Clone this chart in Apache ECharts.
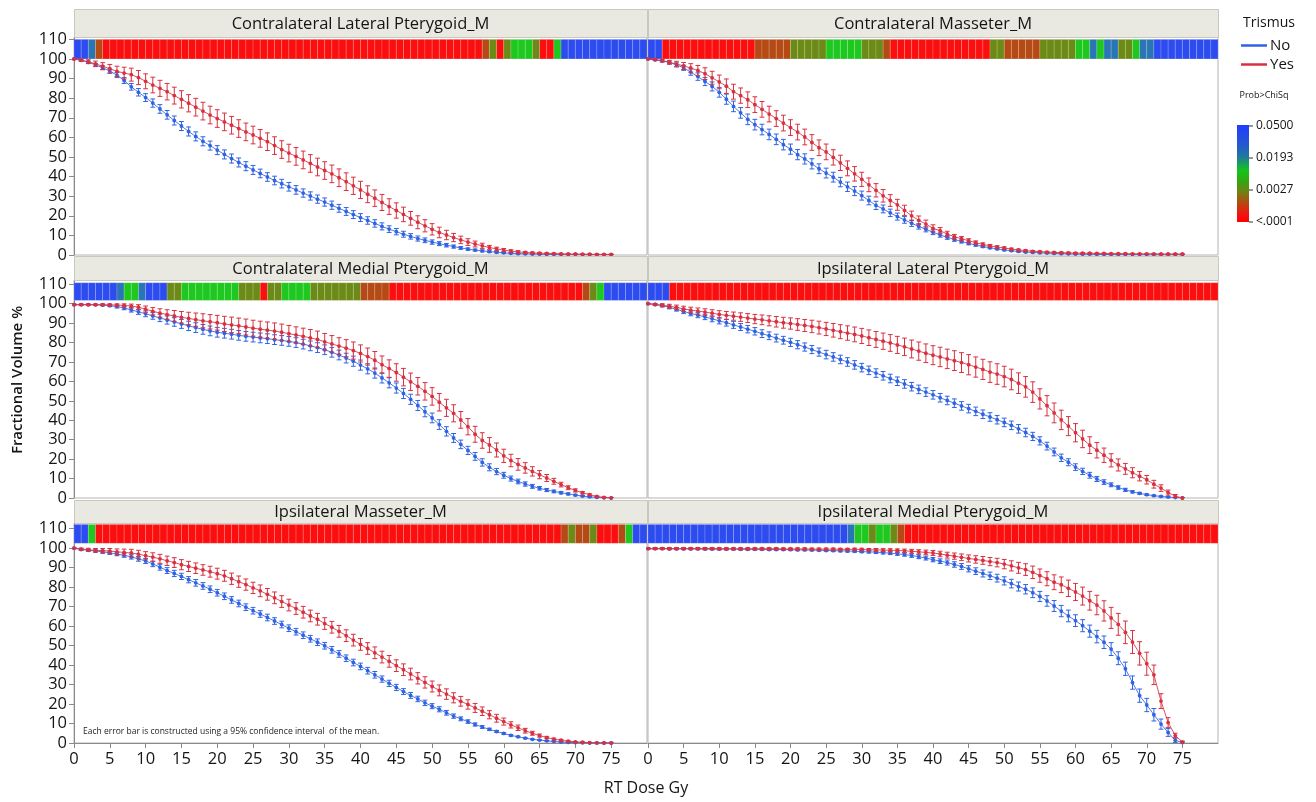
<!DOCTYPE html>
<html><head><meta charset="utf-8">
<script src="https://cdn.jsdelivr.net/npm/echarts@6/dist/echarts.min.js"></script>
<style>html,body{margin:0;padding:0;background:#fff}#c{width:1316px;height:802px}</style>
</head><body><div id="c"></div>
<script>
// ---------------- DATA ----------------
const dose = [0,1,2,3,4,5,6,7,8,9,10,11,12,13,14,15,16,17,18,19,20,21,22,23,24,25,26,27,28,29,30,31,32,33,34,35,36,37,38,39,40,41,42,43,44,45,46,47,48,49,50,51,52,53,54,55,56,57,58,59,60,61,62,63,64,65,66,67,68,69,70,71,72,73,74,75];
const xTicks = [0,5,10,15,20,25,30,35,40,45,50,55,60,65,70,75];
const yTicks = [0,10,20,30,40,50,60,70,80,90,100,110];
const panelTitles = ['Contralateral Lateral Pterygoid_M','Contralateral Masseter_M','Contralateral Medial Pterygoid_M','Ipsilateral Lateral Pterygoid_M','Ipsilateral Masseter_M','Ipsilateral Medial Pterygoid_M'];
const groupNames = ['No','Yes'];
const pLabels = ['0.0500','0.0193','0.0027','<.0001'];

// Contralateral Lateral Pterygoid
const CLP_no = [100,99.3,98.3,97,95.5,93.8,91.8,89,85.8,83, 80.3,77.5,74.5,71.5,68.6,65.8,63,60.5,58,55.8, 53.5,51.3,49.2,47.2,45.3,43.4,41.6,39.8,38,36.4, 34.8,33.2,31.6,30.1,28.5,27,25.4,23.8,22.2,20.6, 19.1,17.6,16.1,14.6,13.2,11.9,10.6,9.5,8.4,7.5, 6.6,5.8,5,4.3,3.6,3,2.5,2.1,1.7,1.4, 1.1,0.9,0.7,0.6,0.5,0.4,0.3,0.3,0.2,0.2, 0.2,0.1,0.1,0.1,0.1,0.1];
const CLP_no_err = [0.2,0.3,0.5,0.7,0.9,1.1,1.3,1.5,1.7,1.9, 2,2.1,2.2,2.2,2.3,2.3,2.3,2.3,2.3,2.3, 2.3,2.3,2.3,2.3,2.3,2.3,2.2,2.2,2.2,2.2, 2.2,2.2,2.1,2.1,2.1,2.1,2.1,2,2,2, 2,1.9,1.9,1.8,1.7,1.6,1.5,1.4,1.3,1.2, 1.1,1,0.9,0.8,0.7,0.6,0.5,0.5,0.4,0.4, 0.3,0.3,0.3,0.2,0.2,0.2,0.2,0.2,0.1,0.1, 0.1,0.1,0.1,0.1,0.1,0.1];
const CLP_yes = [100,99.4,98.6,97.5,96.3,95,93.7,92.8,92,90.5, 88.6,86.7,85,83.3,81.3,79.4,77.4,75.4,73.4,71.4, 69.6,67.9,66.2,64.5,62.8,61.2,59.5,57.8,55.8,53.8, 52,50.3,48.5,46.7,44.9,43.1,41.4,39.4,37.4,35.3, 33.2,31,29,26.8,24.7,22.7,20.7,18.7,16.7,14.9, 13.1,11.5,10.2,8.9,7.7,6.6,5.6,4.7,3.8,3.1, 2.5,2,1.6,1.3,1.1,0.9,0.8,0.7,0.6,0.5, 0.5,0.4,0.4,0.3,0.3,0.3];
const CLP_yes_err = [0.3,0.6,1,1.4,1.8,2.2,2.6,3,3.3,3.6, 3.8,4,4.1,4.2,4.3,4.4,4.4,4.5,4.5,4.5, 4.5,4.5,4.5,4.5,4.5,4.5,4.5,4.5,4.5,4.5, 4.5,4.5,4.5,4.5,4.5,4.5,4.5,4.5,4.5,4.4, 4.4,4.3,4.2,4.1,4,3.9,3.7,3.5,3.3,3.1, 2.9,2.7,2.4,2.1,1.9,1.7,1.5,1.3,1.1,0.9, 0.8,0.7,0.6,0.5,0.4,0.4,0.3,0.3,0.3,0.2, 0.2,0.2,0.2,0.2,0.2,0.2];

// Contralateral Masseter
const CM_no = [100,99.5,99,98.2,97,95.5,93.3,91,88.5,86, 83,79.5,75.8,72.5,69.2,66.5,64,61.5,59,56.3, 54,51.2,49,46.5,44,41.8,39.7,37.2,34.8,32.6, 30.3,27.8,25.3,23.5,21.5,19.6,17.9,16.2,14.6,13.1, 11.6,10.2,9,7.9,6.9,5.9,5.1,4.3,3.7,3.1, 2.6,2.2,1.8,1.5,1.3,1.1,1,0.8,0.7,0.6, 0.5,0.4,0.4,0.3,0.3,0.2,0.2,0.2,0.2,0.2, 0.1,0.1,0.1,0.1,0.1,0.1];
const CM_no_err = [0.2,0.3,0.5,0.7,1,1.3,1.6,1.9,2.1,2.3, 2.5,2.6,2.7,2.7,2.7,2.7,2.7,2.7,2.7,2.7, 2.6,2.6,2.6,2.6,2.5,2.5,2.5,2.4,2.4,2.3, 2.3,2.2,2.1,2,1.9,1.8,1.7,1.6,1.4,1.3, 1.2,1.1,1,0.9,0.8,0.7,0.6,0.5,0.5,0.4, 0.4,0.3,0.3,0.3,0.2,0.2,0.2,0.2,0.2,0.2, 0.1,0.1,0.1,0.1,0.1,0.1,0.1,0.1,0.1,0.1, 0.1,0.1,0.1,0.1,0.1,0.1];
const CM_yes = [100,99.7,99.2,98.3,97.4,96.4,95.4,94.1,92.5,90.4, 88.3,86.1,83.3,81.3,79.2,76.7,74.3,71.9,69.6,67.3, 65,62.7,60.2,57.4,54.7,52.6,49.8,47,44.2,41.4, 38.6,35.8,33,30.2,27.8,25.6,22.8,20,17.7,15.8, 13.6,12.4,10.7,9.3,8.3,7.3,6.3,5.4,4.7,4.1, 3.6,3,2.6,2.2,1.9,1.7,1.5,1.3,1.2,1.1, 1,0.9,0.9,0.8,0.8,0.7,0.7,0.7,0.6,0.6, 0.6,0.6,0.5,0.5,0.5,0.5];
const CM_yes_err = [0.2,0.4,0.7,1,1.4,1.8,2.2,2.6,3,3.3, 3.5,3.7,3.8,3.9,4,4,4,4,4,4, 4,4,4,4,4,4,3.9,3.9,3.8,3.7, 3.6,3.5,3.4,3.2,3,2.8,2.6,2.4,2.2,2, 1.8,1.6,1.4,1.2,1.1,1,0.9,0.8,0.7,0.6, 0.5,0.5,0.4,0.4,0.4,0.3,0.3,0.3,0.3,0.3, 0.3,0.3,0.2,0.2,0.2,0.2,0.2,0.2,0.2,0.2, 0.2,0.2,0.2,0.2,0.2,0.2];

// Contralateral Medial Pterygoid
const CMP_no = [99.5,99.5,99.5,99.4,99.3,99,98.5,97.8,96.8,95.8, 94.8,93.7,92.7,91.6,90.6,89.6,88.6,87.7,86.8,86, 85.3,84.8,84.3,83.7,83.2,82.8,82.4,82,81.5,81.1, 80.6,80,79.2,78.3,77.4,76.3,75,73.6,72,70.4, 68.4,66.5,64.3,61.8,59.3,56.6,53.8,50.8,47.6,44.4, 41.2,37.8,34.3,30.9,27.6,24.5,21.4,18.3,15.8,13.6, 11.7,10,8.5,7.2,6,5,4.1,3.4,2.7,2.1, 1.5,1,0.6,0.3,0.1,0];
const CMP_no_err = [0.3,0.3,0.3,0.3,0.4,0.5,0.7,0.9,1.1,1.3, 1.5,1.7,1.9,2.1,2.2,2.3,2.4,2.5,2.5,2.5, 2.5,2.5,2.5,2.5,2.5,2.5,2.5,2.5,2.5,2.5, 2.5,2.5,2.5,2.5,2.5,2.5,2.5,2.5,2.5,2.6, 2.6,2.6,2.6,2.6,2.6,2.6,2.6,2.6,2.6,2.6, 2.5,2.5,2.4,2.3,2.2,2.1,2,1.9,1.8,1.6, 1.5,1.3,1.2,1.1,1,0.9,0.8,0.7,0.6,0.5, 0.4,0.3,0.3,0.2,0.2,0.1];
const CMP_yes = [99.5,99.5,99.5,99.5,99.5,99.4,99.3,99.1,98.8,98.2, 97.2,96.1,95.2,94.4,93.7,93,92.4,91.8,91.2,90.7, 90.2,89.6,89.1,88.6,88,87.4,86.9,86.4,85.9,85.3, 84.6,83.9,83.2,82.4,81.6,80.4,79.3,78.2,77.1,75.9, 74.4,72.8,70.9,68.6,66.6,64.6,62.2,59.8,57.5,54.9, 52.3,49.3,46.4,43.6,40.2,36.7,32.8,29.6,27.3,24.7, 21.7,19.3,17.3,15.5,13.7,12,10.3,8.6,6.9,5.3, 3.9,2.7,1.7,0.8,0.3,0.1];
const CMP_yes_err = [0.3,0.3,0.3,0.3,0.4,0.5,0.6,0.8,1,1.3, 1.6,1.9,2.2,2.5,2.8,3,3.2,3.4,3.6,3.7, 3.8,3.9,4,4,4.1,4.1,4.1,4.2,4.2,4.2, 4.2,4.2,4.2,4.3,4.3,4.3,4.3,4.3,4.4,4.4, 4.4,4.4,4.5,4.5,4.5,4.5,4.5,4.5,4.5,4.5, 4.5,4.5,4.4,4.4,4.3,4.2,4.1,4,3.8,3.6, 3.4,3.2,3,2.7,2.4,2.1,1.8,1.5,1.2,1, 0.8,0.6,0.4,0.3,0.2,0.1];

// Ipsilateral Lateral Pterygoid
const ILP_no = [100,99.6,99,98.1,97.1,96,95,94.1,93.2,92.2, 91.2,90.2,89.1,88,86.9,85.8,84.6,83.5,82.3,81.2, 80.1,78.9,77.7,76.4,75.1,73.8,72.6,71.3,70,68.5, 67.1,65.7,64.3,62.9,61.5,60.1,58.7,57.3,55.9,54.5, 53.1,51.6,50.2,48.8,47.4,46,44.6,43.1,41.7,40.3, 38.9,37.4,35.6,33.7,31.7,29.4,26.7,23.7,20.7,18.4, 15.9,13.7,11.7,9.8,8.2,6.8,5.4,4.2,3.2,2.4, 1.7,1.2,0.8,0.5,0.2,0];
const ILP_no_err = [0.1,0.3,0.5,0.7,0.9,1.1,1.2,1.3,1.4,1.5, 1.6,1.7,1.8,1.8,1.9,1.9,2,2,2,2, 2.1,2.1,2.1,2.1,2.1,2.2,2.2,2.2,2.2,2.2, 2.2,2.2,2.2,2.2,2.2,2.2,2.2,2.2,2.2,2.2, 2.2,2.2,2.2,2.2,2.2,2.2,2.2,2.2,2.2,2.2, 2.2,2.2,2.2,2.2,2.1,2.1,2,2,1.9,1.8, 1.7,1.6,1.5,1.3,1.2,1,0.9,0.8,0.6,0.5, 0.4,0.3,0.3,0.2,0.1,0.1];
const ILP_yes = [100,99.6,99.2,98.7,98.1,97.3,96.7,96.2,95.7,95.1, 94.5,94,93.6,93.1,92.6,92.1,91.7,91.2,90.7,90.2, 89.8,89.3,88.8,88.3,87.7,87,86.3,85.6,84.9,84.2, 83.4,82.5,81.6,80.7,79.8,78.8,77.8,76.7,75.6,74.5, 73.5,72.6,71.6,70.7,69.7,68.6,67.4,66.2,64.8,63.8, 62.5,61,59.1,57.2,54.5,51,47.5,43.8,40.2,37, 33.6,30.4,27.2,24.6,22,19.4,17,15,13,11.2, 9.4,7.1,5.1,2.8,1,0];
const ILP_yes_err = [0.2,0.5,0.8,1,1.2,1.4,1.5,1.6,1.7,1.8, 1.9,2,2.1,2.2,2.3,2.4,2.5,2.6,2.7,2.8, 2.9,3,3.1,3.2,3.3,3.4,3.5,3.6,3.7,3.8, 3.9,4,4.1,4.2,4.3,4.4,4.5,4.6,4.7,4.8, 4.9,5,5,5.1,5.1,5.2,5.2,5.2,5.3,5.3, 5.3,5.3,5.3,5.3,5.3,5.2,5.2,5.1,5,4.9, 4.7,4.5,4.3,4,3.7,3.4,3.1,2.8,2.6,2.4, 2.2,2,1.7,1.3,0.8,0.3];

// Ipsilateral Masseter
const IM_no = [100,99.3,98.9,98.5,98.1,97.6,97,96.3,95.5,94.5, 93.4,91.9,90.2,88.5,87,85.5,83.8,82.2,80.6,78.9, 77.1,75.3,73.4,71.6,69.7,67.9,66.2,64.4,62.6,60.8, 58.9,57.1,55.3,53.5,51.7,49.9,47.8,45.7,43.5,41.3, 39.3,37.1,35,32.8,30.6,28.5,26.4,24.4,22.6,20.6, 18.9,17.3,15.5,13.8,12.4,11,9.5,8.2,7,5.9, 4.9,3.9,3.2,2.5,1.9,1.5,1.1,0.8,0.5,0.3, 0.2,0.1,0,0,0,0];
const IM_no_err = [0.3,0.4,0.5,0.6,0.7,0.8,0.9,1,1.1,1.2, 1.3,1.4,1.5,1.5,1.6,1.6,1.6,1.7,1.7,1.7, 1.7,1.7,1.7,1.7,1.7,1.7,1.7,1.7,1.7,1.7, 1.7,1.7,1.7,1.7,1.7,1.7,1.7,1.7,1.7,1.7, 1.7,1.7,1.7,1.6,1.6,1.6,1.5,1.5,1.4,1.4, 1.3,1.3,1.2,1.1,1,0.9,0.8,0.7,0.6,0.5, 0.4,0.4,0.3,0.3,0.2,0.2,0.2,0.1,0.1,0.1, 0.1,0.1,0.1,0.1,0.1,0.1];
const IM_yes = [100,99.5,99.2,98.9,98.7,98.5,98.1,97.8,97.5,96.9, 96.1,95.4,94.5,93.5,92.6,91.5,90.6,89.7,88.8,87.9, 86.9,85.8,84.3,82.8,81.3,79.6,78.1,76.3,74.5,72.6, 70.8,69,67.1,65.2,63.5,61.3,59.4,57.3,55.1,52.8, 50.6,48.5,46.3,44.1,41.9,39.7,37.6,35.4,33.2,31.1, 29,27,25.1,23.2,21.4,19.8,18,16.3,14.5,12.7, 11,9.3,7.8,6.3,5,3.8,2.8,2,1.4,0.9, 0.6,0.4,0.2,0.1,0,0];
const IM_yes_err = [0.3,0.5,0.7,0.9,1.1,1.3,1.5,1.7,1.9,2, 2.1,2.2,2.3,2.4,2.5,2.6,2.6,2.7,2.7,2.8, 2.8,2.8,2.9,2.9,2.9,2.9,3,3,3,3, 3,3,3,3,3,3,3,3,3,3, 3,3,3,3,3,3,3,3,2.9,2.9, 2.8,2.8,2.7,2.6,2.5,2.4,2.3,2.2,2.1,2, 1.8,1.6,1.4,1.2,1,0.8,0.6,0.5,0.4,0.3, 0.2,0.2,0.1,0.1,0.1,0.1];

// Ipsilateral Medial Pterygoid
const IMP_no = [99.7,99.7,99.7,99.6,99.6,99.6,99.6,99.6,99.5,99.5, 99.5,99.5,99.5,99.4,99.4,99.4,99.4,99.3,99.3,99.3, 99.2,99.1,99.1,99,98.9,98.8,98.7,98.6,98.5,98.4, 98.2,98.1,97.9,97.7,97.4,97.1,96.7,96.2,95.6,94.9, 94.1,93.3,92.6,91.6,90.6,89.4,88.2,87,85.8,84.6, 83.2,81.8,80.3,78.9,77.1,75.2,72.9,70.3,67.7,65.2, 62.8,60.2,57.4,54.6,51.7,48.2,43.5,38.1,31,24.3, 19.5,14.5,9.7,5.4,1.4,0.2];
const IMP_no_err = [0.4,0.4,0.4,0.4,0.4,0.4,0.4,0.4,0.4,0.4, 0.4,0.4,0.4,0.4,0.4,0.4,0.4,0.4,0.4,0.4, 0.4,0.4,0.4,0.4,0.4,0.4,0.4,0.5,0.5,0.5, 0.5,0.6,0.6,0.7,0.7,0.8,0.8,0.9,1,1, 1.1,1.2,1.3,1.4,1.5,1.6,1.7,1.8,1.9,2, 2.1,2.2,2.3,2.4,2.5,2.6,2.7,2.8,2.9,3, 3,3.1,3.1,3.2,3.2,3.3,3.3,3.4,3.4,3.4, 3.4,3.2,2.6,2,1.2,0.5];
const IMP_yes = [99.8,99.8,99.8,99.8,99.8,99.8,99.8,99.8,99.8,99.8, 99.7,99.7,99.7,99.7,99.7,99.7,99.7,99.7,99.7,99.6, 99.6,99.6,99.6,99.5,99.5,99.5,99.5,99.4,99.4,99.4, 99.3,99.2,99.1,99,98.9,98.8,98.6,98.4,98.1,97.8, 97.5,97,96.4,95.9,95.3,94.7,94.2,93.7,93.1,92.6, 91.8,90.9,89.9,89,87.6,85.9,84.3,82.5,81.2,79.4, 77.5,75.4,73,70.8,67.8,64.2,60.9,56.8,51.8,46, 40.7,35,21.5,10.5,3.8,0.5];
const IMP_yes_err = [0.5,0.5,0.5,0.5,0.5,0.5,0.5,0.5,0.5,0.5, 0.5,0.5,0.5,0.5,0.5,0.5,0.5,0.5,0.5,0.5, 0.5,0.5,0.5,0.5,0.5,0.5,0.5,0.5,0.5,0.6, 0.6,0.6,0.7,0.7,0.8,0.8,0.9,1,1.1,1.2, 1.3,1.4,1.5,1.6,1.7,1.8,1.9,2,2.1,2.2, 2.4,2.6,2.8,3,3.2,3.4,3.6,3.8,4,4.2, 4.4,4.6,4.8,5,5.2,5.4,5.6,5.8,5.9,6, 5.9,5,3.8,2.5,1.2,0.5];

// p-value strips: runs of [level, number of 1-Gy cells]; B=0.05 ... R=<.0001
const stripCLP = [['B',2],['T',1],['D',1],['R',53],['D',1],['O',1],['R',1],['O',1],['G',3],['O',1],['R',2],['G',1],['B',12]];
const stripCM  = [['B',2],['R',13],['D',5],['O',5],['G',5],['O',3],['D',1],['R',14],['O',2],['D',5],['O',5],['G',2],['T',1],['G',1],['T',2],['O',2],['G',1],['T',2],['B',9]];
const stripCMP = [['B',6],['T',1],['G',2],['T',1],['B',3],['O',2],['G',8],['O',3],['R',1],['O',2],['G',4],['O',7],['D',4],['R',27],['D',1],['O',1],['G',1],['B',6]];
const stripILP = [['B',3],['R',77]];
const stripIM  = [['B',2],['G',1],['R',65],['D',1],['O',1],['D',2],['O',1],['R',3],['D',1],['G',1],['B',2]];
const stripIMP = [['B',28],['T',1],['G',2],['O',1],['G',2],['O',1],['D',1],['R',44]];

// ---------------- STYLE / LAYOUT ----------------
const FONT = 'Open Sans';
const BLUE = '#2f63e3', RED = '#d8303f';
const levelColor = {B:'#2d4cf0', T:'#2a76b4', G:'#1ec81e', O:'#6c8a16', D:'#b54a14', R:'#fb0e0e'};
const colLeft = [74, 648], colW = [573, 570];
const rowTop = [37, 280, 523], rowH = [218, 218, 220], rowMax = [111.2, 112.2, 112.9];
const stripSpan = [[100, 110], [101.7, 110.8], [102.5, 112.2]];
const headTop = [9, 256, 500], headH = [28, 24, 23];

const panels = [
  {no: CLP_no, noErr: CLP_no_err, yes: CLP_yes, yesErr: CLP_yes_err, strip: stripCLP},
  {no: CM_no,  noErr: CM_no_err,  yes: CM_yes,  yesErr: CM_yes_err,  strip: stripCM},
  {no: CMP_no, noErr: CMP_no_err, yes: CMP_yes, yesErr: CMP_yes_err, strip: stripCMP},
  {no: ILP_no, noErr: ILP_no_err, yes: ILP_yes, yesErr: ILP_yes_err, strip: stripILP},
  {no: IM_no,  noErr: IM_no_err,  yes: IM_yes,  yesErr: IM_yes_err,  strip: stripIM},
  {no: IMP_no, noErr: IMP_no_err, yes: IMP_yes, yesErr: IMP_yes_err, strip: stripIMP}
];

const grids = [], xAxes = [], yAxes = [], series = [], graphics = [];
const levelKeys = ['B','T','G','O','D','R'];

function stripRender(lo, hi) {
  return function (params, api) {
    const x = api.value(0);
    const c = levelKeys[api.value(1)];
    const p0 = api.coord([x, hi]);
    const p1 = api.coord([x + 1, lo]);
    return {type: 'rect', shape: {x: p0[0], y: p0[1], width: p1[0] - p0[0], height: p1[1] - p0[1]},
      style: {fill: levelColor[c], stroke: 'rgba(255,255,255,0.28)', lineWidth: 0.6}};
  };
}
function errRender(color) {
  return function (params, api) {
    const x = api.value(0);
    const a = api.coord([x, api.value(2)]);
    const b = api.coord([x, api.value(1)]);
    const w = 2.4;
    const st = {stroke: color, lineWidth: 1};
    return {type: 'group', children: [
      {type: 'line', shape: {x1: a[0], y1: a[1], x2: b[0], y2: b[1]}, style: st},
      {type: 'line', shape: {x1: a[0] - w, y1: a[1], x2: a[0] + w, y2: a[1]}, style: st},
      {type: 'line', shape: {x1: b[0] - w, y1: b[1], x2: b[0] + w, y2: b[1]}, style: st}
    ]};
  };
}

panels.forEach((p, k) => {
  const row = Math.floor(k / 2), col = k % 2;
  const bottom = row === 2, left = col === 0;
  grids.push({left: colLeft[col], top: rowTop[row], width: colW[col], height: rowH[row],
    show: true, borderColor: '#b4b4b4', borderWidth: 1, backgroundColor: '#fff'});
  xAxes.push({type: 'value', gridIndex: k, min: 0, max: 80, interval: 5,
    axisLine: {show: bottom, onZero: false, lineStyle: {color: '#8a8a8a'}},
    axisTick: {show: bottom, length: 5, customValues: xTicks, lineStyle: {color: '#8a8a8a'}},
    axisLabel: {show: bottom, customValues: xTicks, fontFamily: FONT, fontSize: 16.5, color: '#151515', margin: 8,
      formatter: v => (v > 75 ? '' : String(v))},
    splitLine: {show: false}});
  yAxes.push({type: 'value', gridIndex: k, min: 0, max: rowMax[row], interval: 10,
    axisLine: {show: left, lineStyle: {color: '#8a8a8a'}},
    axisTick: {show: left, length: 5, customValues: yTicks, lineStyle: {color: '#8a8a8a'}},
    axisLabel: {show: left, customValues: yTicks, fontFamily: FONT, fontSize: 16.5, color: '#151515', margin: 7,
      formatter: v => (v % 10 === 0 && v <= 110 ? String(v) : '')},
    splitLine: {show: false}});

  // strip of p-value cells
  const cells = [];
  let pos = 0;
  p.strip.forEach(([lev, n]) => { for (let j = 0; j < n; j++) { cells.push([pos, levelKeys.indexOf(lev)]); pos++; } });
  series.push({type: 'custom', xAxisIndex: k, yAxisIndex: k, renderItem: stripRender(stripSpan[row][0], stripSpan[row][1]),
    data: cells, encode: {x: 0, y: -1}, silent: true, z: 1, clip: true});

  [[p.no, p.noErr, BLUE, groupNames[0], 2], [p.yes, p.yesErr, RED, groupNames[1], 4]].forEach(([vals, errs, color, name, z]) => {
    series.push({type: 'custom', xAxisIndex: k, yAxisIndex: k, renderItem: errRender(color), silent: true, z: z, clip: true,
      data: dose.map((d, i) => [d, vals[i] - (errs[i] || 0), vals[i] + (errs[i] || 0)]), encode: {x: 0, y: [1, 2]}});
    series.push({type: 'line', name: name, xAxisIndex: k, yAxisIndex: k, z: z + 1,
      data: dose.map((d, i) => [d, vals[i]]), symbol: 'circle', symbolSize: 3.8, showSymbol: true, showAllSymbol: true,
      lineStyle: {width: 1, color: color, opacity: 0.85}, itemStyle: {color: color}, emphasis: {disabled: true}, clip: true});
  });

  // panel header
  graphics.push({type: 'rect', left: colLeft[col], top: headTop[row], shape: {width: colW[col], height: headH[row]},
    style: {fill: '#e9e8e1', stroke: '#c9c8c0', lineWidth: 1}, z: 10});
  graphics.push({type: 'text', x: colLeft[col] + colW[col] / 2, y: headTop[row] + headH[row] / 2 + 1,
    style: {text: panelTitles[k], fontFamily: FONT, fontSize: 16.5, fill: '#151515', align: 'center', verticalAlign: 'middle'}, z: 11});
});

// axis titles and note
graphics.push({type: 'text', x: 646, y: 788, style: {text: 'RT Dose Gy', fontFamily: FONT, fontSize: 16, fill: '#151515', align: 'center', verticalAlign: 'middle'}});
graphics.push({type: 'text', x: 18, y: 380, rotation: Math.PI / 2, style: {text: 'Fractional Volume %', fontFamily: FONT, fontSize: 15, fontWeight: 600, fill: '#151515', align: 'center', verticalAlign: 'middle'}});
graphics.push({type: 'text', x: 83, y: 732, style: {text: 'Each error bar is constructed using a 95% confidence interval  of the mean.', fontFamily: FONT, fontSize: 8.5, fill: '#222', align: 'left', verticalAlign: 'middle'}, z: 20});

// legend side: title, p-value gradient
graphics.push({type: 'text', x: 1269, y: 23, style: {text: 'Trismus', fontFamily: FONT, fontSize: 14, fill: '#151515', align: 'center', verticalAlign: 'middle'}});
graphics.push({type: 'text', x: 1264, y: 95, style: {text: 'Prob>ChiSq', fontFamily: FONT, fontSize: 9, fill: '#151515', align: 'center', verticalAlign: 'middle'}});
graphics.push({type: 'rect', shape: {x: 1237, y: 125, width: 12, height: 97},
  style: {fill: new echarts.graphic.LinearGradient(0, 0, 0, 1, [
    {offset: 0, color: '#1f3dff'}, {offset: 0.2, color: '#2458d0'}, {offset: 0.33, color: '#1f7a9a'},
    {offset: 0.47, color: '#12c51a'}, {offset: 0.6, color: '#3ca012'}, {offset: 0.68, color: '#6c8614'},
    {offset: 0.82, color: '#c0400e'}, {offset: 0.93, color: '#f51010'}, {offset: 1, color: '#ff0000'}])}});
const pLabelY = [126, 158, 190, 222];
pLabels.forEach((t, i) => {
  graphics.push({type: 'text', x: 1256, y: pLabelY[i], style: {text: t, fontFamily: FONT, fontSize: 12, fill: '#151515', align: 'left', verticalAlign: 'middle'}});
  graphics.push({type: 'line', shape: {x1: 1249, y1: pLabelY[i], x2: 1253, y2: pLabelY[i]}, style: {stroke: '#333', lineWidth: 1}});
});

const chart = echarts.init(document.getElementById('c'), null, {renderer: 'canvas'});
chart.setOption({
  animation: false,
  backgroundColor: '#fff',
  textStyle: {fontFamily: FONT},
  legend: {data: groupNames, orient: 'vertical', left: 1236, top: 33, icon: 'rect', itemWidth: 26, itemHeight: 2.5,
    itemGap: 4, selectedMode: false, textStyle: {fontFamily: FONT, fontSize: 15, color: '#151515', padding: [0, 0, 0, -2]}},
  grid: grids, xAxis: xAxes, yAxis: yAxes, series: series, graphic: graphics
});
</script></body></html>
